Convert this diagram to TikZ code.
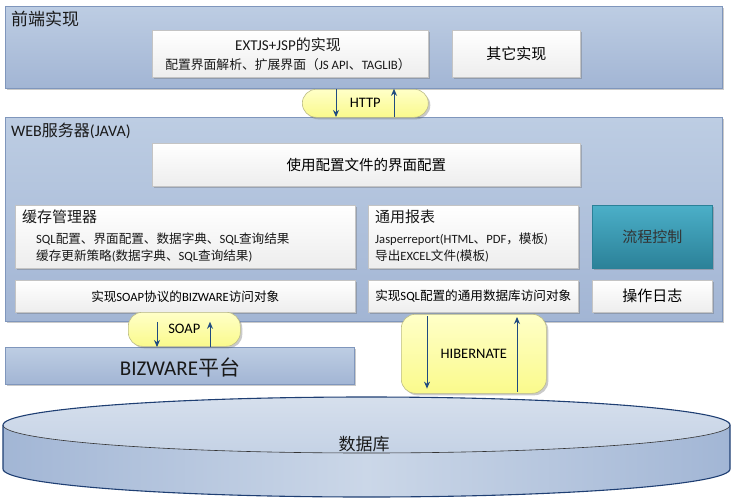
\documentclass[tikz,border=0pt]{standalone}
\usepackage{fontspec}
\setmainfont{Carlito}
\newfontfamily\cjk{Noto Sans CJK SC}
\usetikzlibrary{shadows,calc,arrows.meta}
\newcommand\zh[1]{{\cjk #1}}
\definecolor{panelTop}{HTML}{BDCDE3}
\definecolor{panelBot}{HTML}{A2B5D4}
\definecolor{panelLine}{HTML}{7F96BC}
\definecolor{boxLine}{HTML}{C4C4C4}
\definecolor{tealTop}{HTML}{4BAFC8}
\definecolor{tealBot}{HTML}{2B8198}
\definecolor{pillTop}{HTML}{FFFFC8}
\definecolor{pillBot}{HTML}{FAFA8C}
\definecolor{pillLine}{HTML}{BDBD8A}
\definecolor{arrowBlue}{HTML}{1F4A80}
\definecolor{dbLine}{HTML}{1F3F73}
\definecolor{dbEdge}{HTML}{A2B6D5}
\definecolor{dbMid}{HTML}{CBD7E8}
\tikzset{
  f17/.style={font=\fontsize{17}{20}\selectfont},
  f16/.style={font=\fontsize{16}{19}\selectfont},
  f15/.style={font=\fontsize{15}{18}\selectfont},
  f14/.style={font=\fontsize{14.5}{17}\selectfont},
  f13/.style={font=\fontsize{12.8}{17}\selectfont},
  f12/.style={font=\fontsize{12.6}{17}\selectfont},
  f20/.style={font=\fontsize{21}{24}\selectfont},
  shadowed/.style={drop shadow={opacity=0.35,shadow xshift=2pt,shadow yshift=-2pt,fill=black!60}},
  panel/.style={rectangle,draw=panelLine,line width=0.8pt,top color=panelTop,bottom color=panelBot,
    anchor=north west,inner sep=0pt,shadowed},
  wbox/.style={rectangle,draw=boxLine,line width=0.5pt,top color=white,bottom color=black!7,
    anchor=north west,inner sep=0pt,shadowed},
  tbox/.style={rectangle,draw=tealBot,line width=0.5pt,top color=tealTop,bottom color=tealBot,
    anchor=north west,inner sep=0pt,shadowed},
  pill/.style={rectangle,draw=pillLine,line width=0.6pt,top color=pillTop,bottom color=pillBot,
    anchor=north west,inner sep=0pt,shadowed},
  lbl/.style={inner sep=0pt,text=black!90},
  arr/.style={draw=arrowBlue,line width=0.9pt,-{Stealth[length=7pt,width=6pt]}},
}
\begin{document}
\begin{tikzpicture}[x=1pt,y=-1pt]
\useasboundingbox (0,0) rectangle (735,503);
% panels
\node[panel,minimum width=717pt,minimum height=82pt] (front) at (5,6) {};
\node[lbl,f17,anchor=west] (fronttitle) at (11,19) {\zh{前端实现}};
\node[panel,minimum width=717pt,minimum height=204pt] (web) at (5,117) {};
\node[lbl,f16,anchor=west] (webtitle) at (11,131) {WEB\zh{服务器}(JAVA)};
\node[panel,minimum width=349pt,minimum height=37pt] (biz) at (5,347) {};
\node[lbl,f20] (biztext) at (180,367) {BIZWARE\zh{平台}};
% front boxes
\node[wbox,minimum width=276pt,minimum height=47pt] (extjs) at (152,30) {};
\node[lbl,f15] (extjs1) at (288,45) {EXTJS+JSP\zh{的实现}};
\node[lbl,f13] (extjs2) at (288,65) {\zh{配置界面解析、扩展界面（}JS API\zh{、}TAGLIB\zh{）}};
\node[wbox,minimum width=128pt,minimum height=47pt,f15] (other) at (452,30) {\zh{其它实现}};
% web boxes
\node[wbox,minimum width=428pt,minimum height=43pt,f14] (config) at (152,143) {\zh{使用配置文件的界面配置}};
\node[wbox,minimum width=340pt,minimum height=63pt] (cache) at (15,205) {};
\node[lbl,f15,anchor=west] (cache1) at (22,217) {\zh{缓存管理器}};
\node[lbl,f12,anchor=west] (cache2) at (36,239) {SQL\zh{配置、界面配置、数据字典、}SQL\zh{查询结果}};
\node[lbl,f12,anchor=west] (cache3) at (36,256) {\zh{缓存更新策略}(\zh{数据字典、}SQL\zh{查询结果})};
\node[wbox,minimum width=210pt,minimum height=63pt] (report) at (368,205) {};
\node[lbl,f15,anchor=west] (report1) at (375,217) {\zh{通用报表}};
\node[lbl,f12,anchor=west] (report2) at (375,239) {Jasperreport(HTML\zh{、}PDF\zh{，模板})};
\node[lbl,f12,anchor=west] (report3) at (375,256) {\zh{导出}EXCEL\zh{文件}(\zh{模板})};
\node[tbox,minimum width=120pt,minimum height=63pt,f15,text=black!80] (flow) at (592,205) {\zh{流程控制}};
\node[wbox,minimum width=340pt,minimum height=32pt,f12] (soapobj) at (15,280) {\zh{实现}SOAP\zh{协议的}BIZWARE\zh{访问对象}};
\node[wbox,minimum width=210pt,minimum height=32pt,f12] (sqlobj) at (368,280) {\zh{实现}SQL\zh{配置的通用数据库访问对象}};
\node[wbox,minimum width=120pt,minimum height=32pt,f15] (log) at (592,280) {\zh{操作日志}};
% database
\shade[left color=dbEdge,right color=dbEdge,middle color=dbMid]
  (3,425) -- (3,469) arc[start angle=180,end angle=0,x radius=363.5,y radius=28] -- (730,425)
  arc[start angle=0,end angle=-180,x radius=363.5,y radius=28] -- cycle;
\shade[top color=dbMid!80!white,bottom color=dbMid!85!dbEdge] (366.5,425) ellipse[x radius=363.5,y radius=28];
\draw[black!80,line width=0.6pt] (3,425) arc[start angle=180,end angle=0,x radius=363.5,y radius=28];
\draw[dbLine,line width=1.1pt]
  (3,425) -- (3,469) arc[start angle=180,end angle=0,x radius=363.5,y radius=28] -- (730,425)
  arc[start angle=0,end angle=-180,x radius=363.5,y radius=28] -- cycle;
\node[lbl,f17] (db) at (364,444) {\zh{数据库}};
% pills
\node[pill,rounded corners=14pt,minimum width=126pt,minimum height=28pt,f14] (http) at (302,89) {HTTP};
\node[pill,rounded corners=14pt,minimum width=112pt,minimum height=34pt,f14] (soap) at (128,312) {SOAP};
\node[pill,rounded corners=14pt,minimum width=145pt,minimum height=79pt,f14] (hib) at (401,314) {HIBERNATE};
% arrows
\coordinate (hx1) at (336,0);
\coordinate (hx2) at (394,0);
\coordinate (sx1) at (157,0);
\coordinate (sx2) at (210,0);
\coordinate (bx1) at (427,0);
\coordinate (bx2) at (517,0);
\draw[arr] (hx1 |- front.south) -- (hx1 |- web.north);
\draw[arr] (hx2 |- web.north) -- (hx2 |- front.south);
\draw[arr] (sx1 |- web.south) -- (sx1 |- biz.north);
\draw[arr] (sx2 |- biz.north) -- (sx2 |- web.south);
\draw[arr,shorten <=2pt,shorten >=5pt] (bx1 |- hib.north) -- (bx1 |- hib.south);
\draw[arr,shorten <=2pt,shorten >=3pt] (bx2 |- hib.south) -- (bx2 |- hib.north);
\end{tikzpicture}
\end{document}
